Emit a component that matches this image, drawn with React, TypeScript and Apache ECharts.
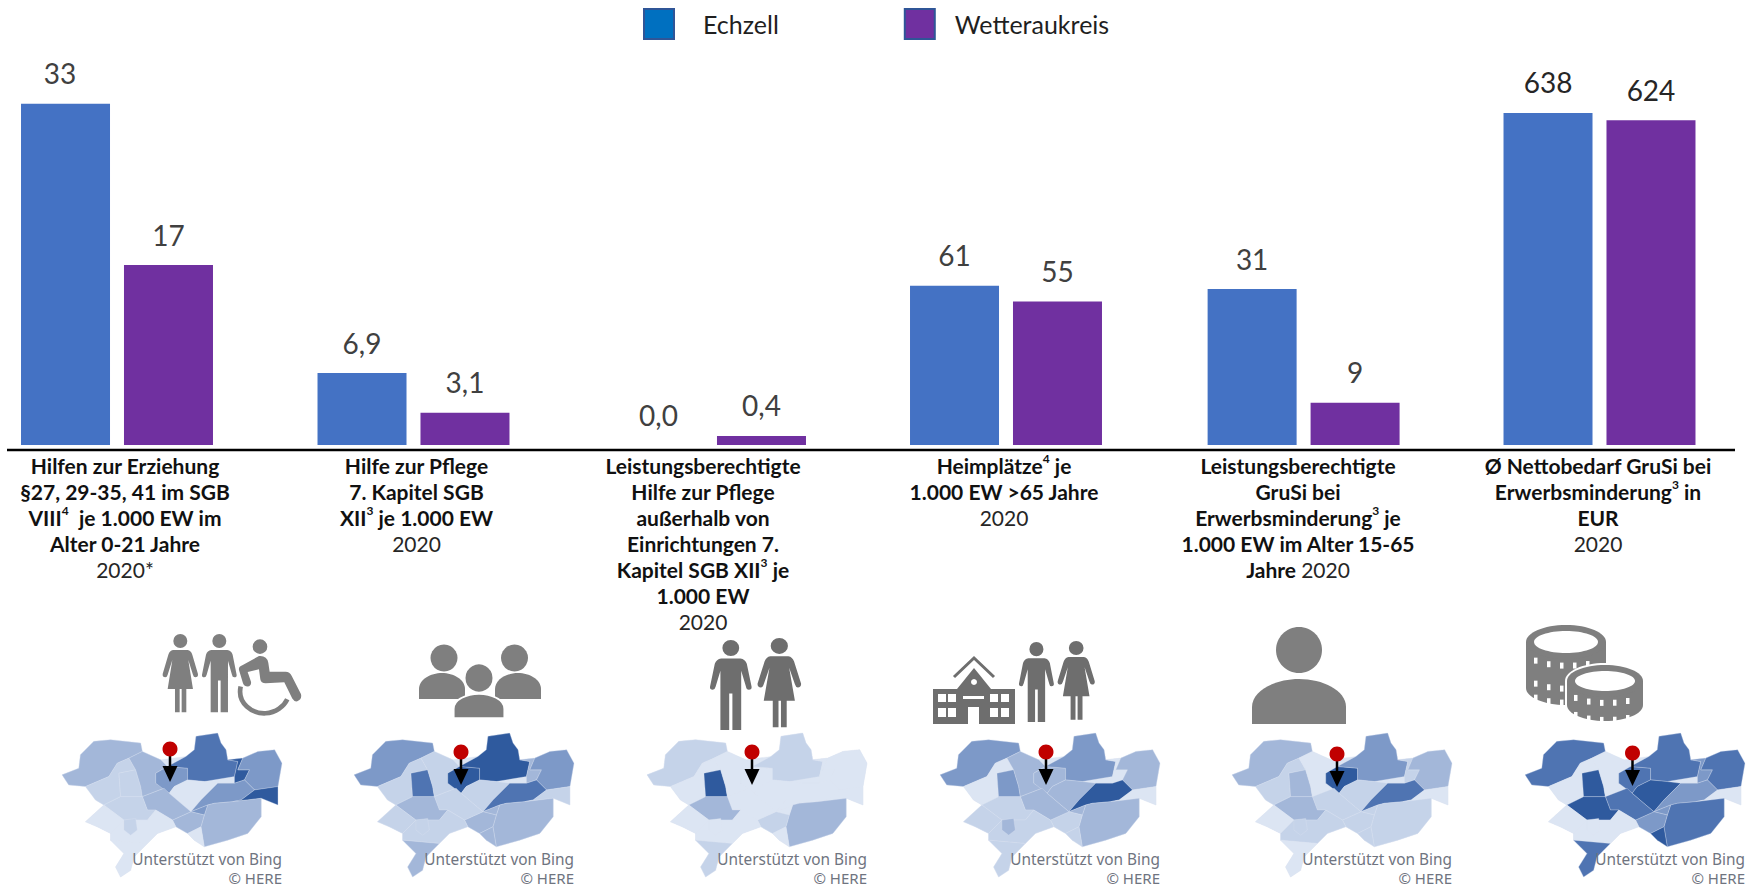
import React, { useEffect, useRef } from "react";
import * as echarts from "echarts";

const seriesNames = ["Echzell", "Wetteraukreis"];
const echzellValues = [33, 6.9, 0, 61, 31.4, 638];
const wetterauValues = [17.4, 3.1, 0.4, 55, 8.5, 624];
const labelDecimals = [0, 1, 1, 0, 0, 0];
const axisMaxes = [35.3, 35, 16.2, 139.8, 73.5, 701.4];
const categoryLabels = [
  "{b|Hilfen zur Erziehung}\n{b|§27, 29-35, 41 im SGB}\n{b|VIII}{s|4}{b|  je 1.000 EW im}\n{b|Alter 0-21 Jahre}\n{r|2020*}",
  "{b|Hilfe zur Pflege}\n{b|7. Kapitel SGB}\n{b|XII}{s|3}{b| je 1.000 EW}\n{r|2020}",
  "{b|Leistungsberechtigte}\n{b|Hilfe zur Pflege}\n{b|außerhalb von}\n{b|Einrichtungen 7.}\n{b|Kapitel SGB XII}{s|3}{b| je}\n{b|1.000 EW}\n{r|2020}",
  "{b|Heimplätze}{s|4}{b| je}\n{b|1.000 EW >65 Jahre}\n{r|2020}",
  "{b|Leistungsberechtigte}\n{b|GruSi bei}\n{b|Erwerbsminderung}{s|3}{b| je}\n{b|1.000 EW im Alter 15-65}\n{b|Jahre }{r|2020}",
  "{b|Ø Nettobedarf GruSi bei}\n{b|Erwerbsminderung}{s|3}{b| in}\n{b|EUR}\n{r|2020}",
];
const groupCentres = [117, 413.5, 710, 1006, 1303.6, 1599.5];
const labelShifts = [8, 3, -7, -2, -5.6, -1.5];
const firstLabelShift = [-5.5, 0, 0, 0, 0, 0];
const mapLefts = [62, 354, 647, 940, 1232, 1525];
const pinXs = [170, 461, 752, 1046, 1337, 1632.5];
const pinYs = [749, 752, 752, 752, 754, 753];

const shadePalette = ["#DCE5F3", "#C5D3E9", "#A3B7D9", "#7D99C8", "#4F74B2", "#2F5A9E"];

const regionOutlines: Record<string, number[][]> = {
  Z: [[65,465],[115,445],[120,405],[160,365],[210,360],[300,370],[305,395],[360,420],[435,410],[460,390],[465,350],[530,340],[540,370],[555,390],[560,420],[605,415],[650,395],[700,390],[722,430],[710,500],[710,555],[660,535],[660,590],[620,640],[560,660],[490,680],[460,660],[440,640],[405,620],[350,640],[320,670],[280,710],[270,750],[240,770],[225,740],[250,700],[210,660],[210,640],[170,620],[135,605],[190,555],[165,540],[135,500],[85,495]],
  A: [[65,465],[115,445],[120,405],[160,365],[210,360],[300,370],[305,395],[265,415],[230,430],[205,470],[135,500],[85,495]],
  B: [[135,500],[205,470],[230,430],[265,415],[285,450],[235,460],[240,530],[190,555],[165,540]],
  T: [[235,460],[285,450],[300,500],[305,530],[240,530]],
  C: [[265,415],[305,395],[360,420],[380,440],[345,460],[345,490],[370,505],[305,530],[300,500],[285,450]],
  D: [[345,460],[380,440],[440,445],[440,480],[400,500],[385,520],[345,490]],
  E: [[380,440],[435,410],[460,390],[465,350],[530,340],[540,370],[555,390],[560,420],[590,425],[580,470],[490,485],[440,480],[440,445]],
  F: [[560,420],[605,415],[590,450],[625,450],[610,480],[580,490],[580,470],[590,425]],
  G: [[605,415],[650,395],[700,390],[722,430],[710,500],[640,510],[610,480],[625,450],[590,450]],
  H: [[400,500],[440,480],[490,485],[530,490],[480,540],[450,575],[420,550],[385,520]],
  I: [[530,490],[580,490],[610,480],[640,510],[600,540],[575,545],[520,550],[500,555],[450,575],[480,540]],
  J: [[640,510],[710,500],[710,555],[660,535],[575,545],[600,540]],
  K: [[520,550],[575,545],[660,535],[660,590],[620,640],[560,660],[490,680],[480,620],[490,585],[500,555]],
  L: [[450,575],[500,555],[490,585]],
  M: [[395,600],[450,575],[490,585],[480,620],[440,640],[405,620]],
  N: [[440,640],[480,620],[490,680],[460,660]],
  O: [[305,530],[370,505],[385,520],[420,550],[450,575],[395,600],[345,570],[320,570]],
  V: [[190,555],[240,530],[305,530],[320,570],[345,570],[320,600],[250,600]],
  P: [[135,605],[190,555],[250,600],[210,640],[170,620]],
  Q: [[250,600],[320,600],[345,570],[395,600],[405,620],[350,640],[320,670],[210,660],[210,640]],
  R: [[210,660],[320,670],[280,710],[270,750],[240,770],[225,740],[250,700]],
  S: [[250,600],[285,595],[290,630],[270,645],[250,630]],
};
const regionNames = ["Z","A","B","T","C","D","E","F","G","H","I","J","K","L","M","N","O","V","P","Q","R","S"];
const shadesPanel1 = [0,2,1,1,2,3,4,5,3,0,3,5,2,3,2,0,2,1,0,0,0,1];
const shadesPanel2 = [0,3,1,4,1,5,5,2,3,1,4,1,2,2,2,2,1,2,1,1,2,1];
const shadesPanel3 = [0,1,0,5,0,0,1,0,0,0,0,0,2,0,1,0,0,2,0,0,1,0];
const shadesPanel4 = [0,3,0,3,2,2,3,0,2,2,5,0,2,2,1,1,2,1,1,1,1,2];
const shadesPanel5 = [0,2,1,2,0,5,3,1,2,1,4,0,1,1,1,1,1,2,0,1,0,1];
const shadesPanel6 = [0,4,0,5,0,4,4,3,4,5,3,0,4,3,3,5,4,5,0,0,4,0];
const panelShades = [shadesPanel1, shadesPanel2, shadesPanel3, shadesPanel4, shadesPanel5, shadesPanel6];

const FONT = "Lato";
const GRAY = "#7F7F7F";
const DARK = "#6E6E6E";

const womanPath = "M31 21a21 21 0 1 0 42 0a21 21 0 1 0 -42 0zM30 48L74 48Q84 50 88 62L105 120Q106 130 97 130Q92 130 90 122L76 78L90 165L70 165L70 235L56 235L56 165L50 165L50 235L36 235L36 165L14 165L28 78L14 122Q12 130 7 130Q-2 130 -1 120L16 62Q20 50 30 48Z";
const manPath = "M31 21a21 21 0 1 0 42 0a21 21 0 1 0 -42 0zM28 48L76 48Q88 50 92 62L104 122Q105 130 97 130Q91 130 90 122L78 80L78 235L56 235L56 140L48 140L48 235L26 235L26 80L14 122Q12 130 7 130Q-1 130 0 122L12 62Q16 50 28 48Z";
const bustPath = "M0 100L0 62C0 25 25 0 50 0C75 0 100 25 100 62L100 100Z";
const wheelBodyPath = "M41 20a22 22 0 1 0 44 0a22 22 0 1 0 -44 0zM60 48Q84 46 88 68L92 95L140 95Q152 95 158 107L186 162Q190 178 175 184Q166 186 160 176L136 127L80 130Q66 130 64 118L60 88L26 96L36 125Q38 138 26 140Q16 140 12 130L0 90Q-2 80 10 76Z";
const wheelRimPath = "M5 140C-6 190 40 222 80 220C110 218 135 200 145 178";

echarts.graphic.registerShape("woman", echarts.graphic.extendPath(womanPath as any, {} as any) as any);
echarts.graphic.registerShape("man", echarts.graphic.extendPath(manPath as any, {} as any) as any);
echarts.graphic.registerShape("bust", echarts.graphic.extendPath(bustPath as any, {} as any) as any);
echarts.graphic.registerShape("wheelBody", echarts.graphic.extendPath(wheelBodyPath as any, {} as any) as any);
echarts.graphic.registerShape("wheelRim", echarts.graphic.extendPath(wheelRimPath as any, {} as any) as any);

function mapGeo() {
  return {
    type: "FeatureCollection",
    features: regionNames.map((name) => ({
      type: "Feature",
      properties: { name },
      geometry: {
        type: "Polygon",
        coordinates: [[...regionOutlines[name], regionOutlines[name][0]].map(([x, y]) => [x, -y])],
      },
    })),
  };
}

function figure(kind: string, x: number, y: number, sx: number, sy: number, color: string) {
  return { type: kind, x, y, scaleX: sx, scaleY: sy, z: 20, silent: true, style: { fill: color } };
}
function headCircle(cx: number, cy: number, r: number, color: string) {
  return { type: "circle", z: 20, silent: true, shape: { cx, cy, r }, style: { fill: color } };
}
function oval(cx: number, cy: number, rx: number, ry: number, fill: string, z = 20) {
  return { type: "ellipse", z, silent: true, shape: { cx, cy, rx, ry }, style: { fill } };
}
function box(x: number, y: number, width: number, height: number, fill: string, z = 20) {
  return { type: "rect", z, silent: true, shape: { x, y, width, height }, style: { fill } };
}

function buildingIcon() {
  const out: any[] = [];
  out.push(box(933, 689, 82, 35, DARK));
  out.push({ type: "polygon", z: 20, silent: true, shape: { points: [[957, 689], [974, 668], [991, 689]] }, style: { fill: DARK } });
  out.push({ type: "polyline", z: 20, silent: true, shape: { points: [[954, 677], [974, 658], [994, 677]] }, style: { stroke: DARK, lineWidth: 3, fill: "none" } });
  out.push(headCircle(974, 682, 3, "#fff"));
  [938, 948, 990, 1001].forEach((wx) => {
    out.push(box(wx, 694, 8, 8, "#fff", 21));
    out.push(box(wx, 708, 8, 9, "#fff", 21));
  });
  out.push(box(963, 696, 21, 3, "#fff", 21));
  out.push(box(968, 707, 11, 17, "#fff", 21));
  return out;
}

function coinStack(cx: number, top: number, bottom: number, rx: number, ry: number, rows: number[], from: number, to: number, z: number) {
  const out: any[] = [];
  out.push(oval(cx, bottom, rx + 2, ry + 2, "#fff", z));
  out.push(box(cx - rx - 2, top, 2 * rx + 4, bottom - top, "#fff", z));
  out.push(oval(cx, top, rx + 2, ry + 2, "#fff", z));
  out.push(oval(cx, bottom, rx, ry, GRAY, z + 1));
  out.push(box(cx - rx, top, 2 * rx, bottom - top, GRAY, z + 1));
  out.push(oval(cx, top, rx, ry, GRAY, z + 1));
  out.push(oval(cx, top, rx - 8, ry - 6, "#fff", z + 2));
  rows.forEach((ry0) => {
    for (let wx = from; wx <= to; wx += 13) {
      const d = (wx - cx) / rx;
      out.push(box(wx, ry0 + ry * 0.75 * Math.sqrt(Math.max(0, 1 - d * d)), 3.5, 6, "#fff", z + 2));
    }
  });
  return out;
}

function icons(): any[] {
  const s = 1 / 3;
  return [
    figure("woman", 163, 634, s, s, GRAY),
    figure("man", 202, 634, s, s, GRAY),
    figure("wheelBody", 239, 640, s, s, GRAY),
    { type: "wheelRim", x: 239, y: 640, scaleX: s, scaleY: s, z: 20, silent: true, style: { fill: "none", stroke: GRAY, lineWidth: 14 } },

    headCircle(444, 658, 13.5, GRAY),
    headCircle(514.5, 658, 13.5, GRAY),
    figure("bust", 419, 673, 0.46, 0.26, GRAY),
    figure("bust", 495, 673, 0.46, 0.26, GRAY),
    { type: "circle", z: 21, silent: true, shape: { cx: 479, cy: 678, r: 14.5 }, style: { fill: GRAY, stroke: "#fff", lineWidth: 2 } },
    { type: "bust", x: 453, y: 694, scaleX: 0.52, scaleY: 0.24, z: 21, silent: true, style: { fill: GRAY, stroke: "#fff", lineWidth: 6 } },

    figure("man", 710, 640, 0.4, 0.383, DARK),
    figure("woman", 758, 638, 0.41, 0.38, DARK),

    ...buildingIcon(),
    figure("man", 1019, 642, 0.335, 0.34, DARK),
    figure("woman", 1058, 641, 0.35, 0.335, DARK),

    oval(1299, 650, 23, 23, GRAY),
    figure("bust", 1252, 679, 0.94, 0.45, GRAY),

    ...coinStack(1566, 642, 688, 40, 17, [650, 673, 687], 1534, 1596, 20),
    ...coinStack(1605, 681, 705, 38, 16, [688, 705], 1574, 1634, 24),
  ];
}

function pins(): any[] {
  const out: any[] = [];
  pinXs.forEach((x, i) => {
    const y = pinYs[i];
    out.push({ type: "line", z: 30, silent: true, shape: { x1: x, y1: y, x2: x, y2: y + 20 }, style: { stroke: "#000", lineWidth: 2.5 } });
    out.push({ type: "polygon", z: 30, silent: true, shape: { points: [[x - 7.5, y + 17], [x + 7.5, y + 17], [x, y + 33]] }, style: { fill: "#000" } });
    out.push({ type: "ellipse", z: 31, silent: true, shape: { cx: x, cy: y, rx: 7.5, ry: 7.5 }, style: { fill: "#C00000" } });
  });
  return out;
}

function credits(): any[] {
  const out: any[] = [];
  mapLefts.forEach((left) => {
    const right = left + 220;
    out.push({ type: "text", z: 40, silent: true, x: right, y: 859, style: { text: "Unterstützt von Bing", font: "15.4px 'Noto Sans'", fill: "#6F7480", textAlign: "right", textVerticalAlign: "middle" } });
    out.push({ type: "text", z: 40, silent: true, x: right, y: 878, style: { text: "© HERE", font: "15px 'Noto Sans'", fill: "#6F7480", textAlign: "right", textVerticalAlign: "middle" } });
  });
  return out;
}

export default function App() {
  const ref = useRef<HTMLDivElement>(null);
  useEffect(() => {
    document.body.style.margin = "0";
    document.body.style.overflow = "hidden";
    const chart = echarts.init(ref.current!, undefined, { renderer: "svg" });
    panelShades.forEach((_, i) => echarts.registerMap("wetterau" + i, mapGeo() as any));

    const grids = groupCentres.map((c) => ({ left: c - 110, width: 220, top: 80, height: 365, containLabel: false }));
    const xAxes = categoryLabels.map((label, i) => ({
      type: "category",
      gridIndex: i,
      data: [label],
      axisLine: { show: false },
      axisTick: { show: false },
      axisLabel: {
        interval: 0,
        hideOverlap: false,
        margin: 7,
        align: "center",
        padding: labelShifts[i] > 0 ? [0, 0, 0, 2 * labelShifts[i]] : [0, -2 * labelShifts[i], 0, 0],
        formatter: (v: string) => v,
        rich: {
          b: { fontFamily: FONT, fontWeight: "bold", fontSize: 21, lineHeight: 26, color: "#111" },
          r: { fontFamily: FONT, fontSize: 21, lineHeight: 26, color: "#262626" },
          s: { fontFamily: FONT, fontWeight: "bold", fontSize: 12, lineHeight: 16, verticalAlign: "top", color: "#111" },
        },
      },
    }));
    const yAxes = axisMaxes.map((max, i) => ({ type: "value", gridIndex: i, min: 0, max, show: false }));

    const bar = (name: string, values: number[], i: number, color: string, shift: number) => ({
      type: "bar",
      name,
      xAxisIndex: i,
      yAxisIndex: i,
      data: [values[i]],
      barWidth: 89,
      barGap: "15.7%",
      itemStyle: { color },
      silent: true,
      label: {
        show: true,
        position: "top",
        distance: 16.5,
        offset: [shift, 0],
        fontFamily: FONT,
        fontSize: 28,
        color: i === 5 ? "#262626" : "#404040",
        formatter: (p: any) => Number(p.value).toFixed(labelDecimals[i]).replace(".", ","),
      },
    });

    const bars = groupCentres.flatMap((_, i) => [
      bar(seriesNames[0], echzellValues, i, "#4472C4", firstLabelShift[i]),
      bar(seriesNames[1], wetterauValues, i, "#7030A0", 0),
    ]);
    const maps = panelShades.map((shades, i) => ({
      type: "map",
      map: "wetterau" + i,
      left: mapLefts[i],
      top: 733,
      width: 220,
      height: 144,
      aspectScale: 1,
      roam: false,
      silent: true,
      selectedMode: false,
      legendHoverLink: false,
      showLegendSymbol: false,
      label: { show: false },
      emphasis: { disabled: true },
      itemStyle: { borderColor: "#DCE5F3", borderWidth: 0.3 },
      data: regionNames.map((name, k) => ({ name, value: shades[k], itemStyle: { areaColor: shadePalette[shades[k]] } })),
    }));

    chart.setOption({
      animation: false,
      backgroundColor: "#fff",
      legend: {
        left: 638,
        top: 3,
        itemWidth: 30,
        itemHeight: 30,
        itemGap: 125,
        selectedMode: false,
        icon: "rect",
        textStyle: { fontFamily: FONT, fontSize: 25, color: "#1f1f1f", padding: [3, 0, 0, 24] },
        data: [
          { name: seriesNames[0], itemStyle: { color: "#0070C0", borderColor: "#2F5597", borderWidth: 2 } },
          { name: seriesNames[1], textStyle: { padding: [2, 0, 0, 15] }, itemStyle: { color: "#7030A0", borderColor: "#2F5597", borderWidth: 2 } },
        ],
      },
      grid: grids,
      xAxis: xAxes,
      yAxis: yAxes,
      series: [...bars, ...maps],
      graphic: [
        { type: "line", z: 10, silent: true, shape: { x1: 7, y1: 450, x2: 1735, y2: 450 }, style: { stroke: "#000", lineWidth: 2.5 } },
        ...icons(),
        ...pins(),
        ...credits(),
      ],
    } as any);
    return () => chart.dispose();
  }, []);
  return <div ref={ref} style={{ position: "absolute", left: 0, top: 0, width: 1746, height: 888 }} />;
}
